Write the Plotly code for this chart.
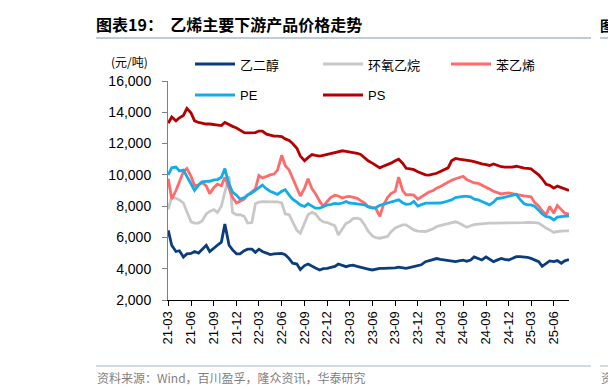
import pandas as pd
import plotly.graph_objects as go

dates = pd.date_range("2021-03-01", "2025-08-01", freq="SMS").strftime("%Y-%m-%d").tolist()

eg = [6450,5500,5100,5150,4750,4950,4980,5100,5000,5250,
      5500,5100,5350,5500,5700,6850,5500,5200,4950,4950,
      5150,5250,5250,5050,5250,5100,5000,4900,4950,4950,
      4980,4900,4650,4350,4300,3950,4200,4300,4150,4050,
      3920,4000,4020,4100,4150,4300,4200,4130,4200,4230,
      4150,4080,4020,3980,3920,3980,4020,4020,4020,4050,
      4050,4100,4080,4020,4080,4120,4180,4250,4450,4520,
      4600,4650,4600,4560,4560,4500,4450,4500,4550,4480,
      4550,4750,4650,4560,4750,4600,4450,4550,4660,4600,
      4560,4650,4770,4770,4760,4720,4660,4580,4450,4150,
      4350,4500,4450,4520,4350,4500,4580]

eo = [7800,8600,8500,8400,8200,7600,7000,6920,6920,7050,
      7500,7660,7780,7600,8000,8900,9900,7600,7450,7450,
      7350,6920,6950,8150,8250,8280,8280,8280,8280,8270,
      8200,7500,7450,7000,6450,6270,6900,7450,7600,7500,
      7150,7000,6950,6850,6750,6150,6580,6900,7000,7200,
      7230,7150,6800,6400,6100,5980,5950,5980,6060,6350,
      6600,6700,6800,6800,6600,6480,6400,6380,6380,6450,
      6550,6700,6780,6820,6880,6920,7000,6920,6750,6650,
      6750,6820,6850,6880,6900,6910,6910,6910,6910,6910,
      6910,6910,6900,6910,6940,6960,6970,6950,6920,6750,
      6600,6480,6320,6380,6420,6420,6420]

sm = [9750,8450,9000,9600,10200,10400,9900,9300,9350,9500,
      9300,8800,9200,9400,9300,9850,9100,8550,8200,8300,
      8450,8700,8950,9100,9950,9800,9900,10000,10050,10300,
      11250,10600,10300,9750,9200,8650,9150,9750,9100,8800,
      8300,8000,8300,8550,8700,8650,8520,8600,8620,8580,
      8500,8350,8200,7980,7920,7850,7350,8050,8550,8800,
      8950,9850,9000,8720,8730,8700,8450,8600,8750,8900,
      9000,9150,9250,9380,9550,9650,9750,9800,9900,9700,
      9600,9480,9450,9350,9250,9100,8950,8850,8780,8820,
      8850,8800,8720,8700,8650,8620,8600,8250,8000,7700,
      7450,7980,7550,8050,7780,7550,7480]

pe = [10000,10450,10500,10250,10300,9900,9400,9000,9350,9550,
      9580,9590,9680,9700,9850,10400,9400,8900,8700,8450,
      8550,8720,8850,9000,9200,9350,9100,8950,8850,8750,
      8950,9050,8700,8450,8250,8080,7980,8150,8000,7870,
      7870,7950,8080,8100,8180,8150,8200,8300,8200,8180,
      8150,8080,8080,7950,7880,7900,8050,8120,8190,8250,
      8350,8400,8220,8120,8150,8300,8000,8100,8190,8190,
      8190,8190,8200,8250,8320,8400,8550,8600,8620,8620,
      8600,8450,8400,8300,8150,8080,8250,8480,8520,8580,
      8620,8680,8750,8450,8150,8080,8080,8000,7750,7500,
      7330,7300,7120,7300,7330,7340,7380]

ps = [13300,13700,13450,13650,13800,14250,13950,13450,13350,13300,
      13250,13250,13200,13200,13150,13350,13200,13100,13000,12850,
      12700,12680,12680,12700,12800,12800,12600,12550,12470,12470,
      12450,12300,12200,12000,11700,11200,10900,11100,11300,11250,
      11200,11250,11300,11350,11420,11480,11540,11500,11470,11450,
      11380,11300,11100,10900,10750,10600,10450,10550,10650,10750,
      10900,11000,10750,10420,10380,10330,10200,10100,10000,9980,
      10030,10100,10220,10330,10450,10900,11050,11000,10970,10970,
      10900,10850,10760,10700,10650,10600,10700,10600,10520,10500,
      10480,10500,10550,10480,10430,10420,10380,10200,10000,9750,
      9400,9330,9150,9280,9180,9100,9000]

series_names = ["乙二醇", "环氧乙烷", "苯乙烯", "PE", "PS"]
series_values = [eg, eo, sm, pe, ps]
series_colors = ["#0B3C7D", "#C8C8C8", "#FF6B6B", "#12ADE8", "#B40000"]

y_ticks = [2000, 4000, 6000, 8000, 10000, 12000, 14000, 16000]

FONT = "Liberation Sans, Arial, Noto Sans CJK SC, sans-serif"
CJK = "Noto Sans CJK SC, Liberation Sans, sans-serif"

fig = go.Figure()
for name, vals, col in zip(series_names, series_values, series_colors):
    fig.add_trace(go.Scatter(x=dates, y=vals, name=name, mode="lines",
                             line=dict(color=col, width=2.8), showlegend=False))

L, R, T, B = 160, 55, 73, 97
W, H = 616, 389
pw = W - L - R
ph = H - T - B

def px(x):
    return (x - L) / pw

def py(y):
    return (H - B - y) / ph

fig.update_layout(
    width=W, height=H,
    margin=dict(l=L, r=R, t=T, b=B, autoexpand=False),
    paper_bgcolor="white", plot_bgcolor="white",
    font=dict(family=FONT, size=13, color="#000000"),
    title=dict(text="<b>图表19：  乙烯主要下游产品价格走势</b>", x=88 / W, xref="container",
               xanchor="left", y=1 - 17 / H, yref="container", yanchor="middle",
               font=dict(family=CJK, size=16, color="#000000")),
    showlegend=False,
    xaxis=dict(type="date", range=["2021-02-28", "2025-08-01"], tick0="2021-03-01", dtick="M3",
               tickformat="%y-%m", tickangle=-90, ticks="outside", ticklen=5, tickcolor="#000",
               showline=True, linecolor="#000", linewidth=1, showgrid=False, zeroline=False,
               tickfont=dict(family=FONT, size=13)),
    yaxis=dict(range=[2000, 16000], tickvals=y_ticks, tickformat=",", ticks="outside",
               ticklen=5, tickcolor="#808080", showline=True, linecolor="#808080", linewidth=1,
               showgrid=False, zeroline=False, ticklabelstandoff=8,
               tickfont=dict(family=FONT, size=14)),
)

# legend (drawn as line samples + labels)
legend_pos = [(187, 56), (315, 56), (443, 56), (187, 87), (315, 87)]
for name, col, (lx, ly) in zip(series_names, series_colors, legend_pos):
    fig.add_shape(type="line", xref="paper", yref="paper", x0=px(lx), x1=px(lx + 40),
                  y0=py(ly), y1=py(ly), line=dict(color=col, width=3))
    fig.add_annotation(text=name, x=px(lx + 43), y=py(ly), xref="paper", yref="paper",
                       showarrow=False, xanchor="left", yanchor="middle",
                       font=dict(family=CJK if name not in ("PE", "PS") else FONT,
                                 size=13, color="#000"))

fig.add_annotation(text="(元/吨)", x=px(121), y=py(54), xref="paper", yref="paper",
                   showarrow=False, xanchor="center", yanchor="middle",
                   font=dict(family=CJK, size=12, color="#000"))
fig.add_annotation(text="资料来源：Wind，百川盈孚，隆众资讯，华泰研究", x=px(87), y=py(369),
                   xref="paper", yref="paper", showarrow=False, xanchor="left", yanchor="middle",
                   font=dict(family=CJK, size=12, color="#7F7F7F"))
fig.add_annotation(text="<b>图</b>", x=px(590), y=py(17), xref="paper", yref="paper",
                   showarrow=False, xanchor="left", yanchor="middle",
                   font=dict(family=CJK, size=14, color="#000"))
fig.add_annotation(text="资", x=px(591), y=py(369), xref="paper", yref="paper",
                   showarrow=False, xanchor="left", yanchor="middle",
                   font=dict(family=CJK, size=12, color="#7F7F7F"))

for (x0, x1) in [(88, 583), (592, 616)]:
    fig.add_shape(type="line", xref="paper", yref="paper", x0=px(x0), x1=px(x1),
                  y0=py(30), y1=py(30), line=dict(color="#A9BACF", width=1.5))
    fig.add_shape(type="line", xref="paper", yref="paper", x0=px(x0), x1=px(x1),
                  y0=py(358), y1=py(358), line=dict(color="#C3CEDC", width=1.5))

fig.write_html("out.html")
